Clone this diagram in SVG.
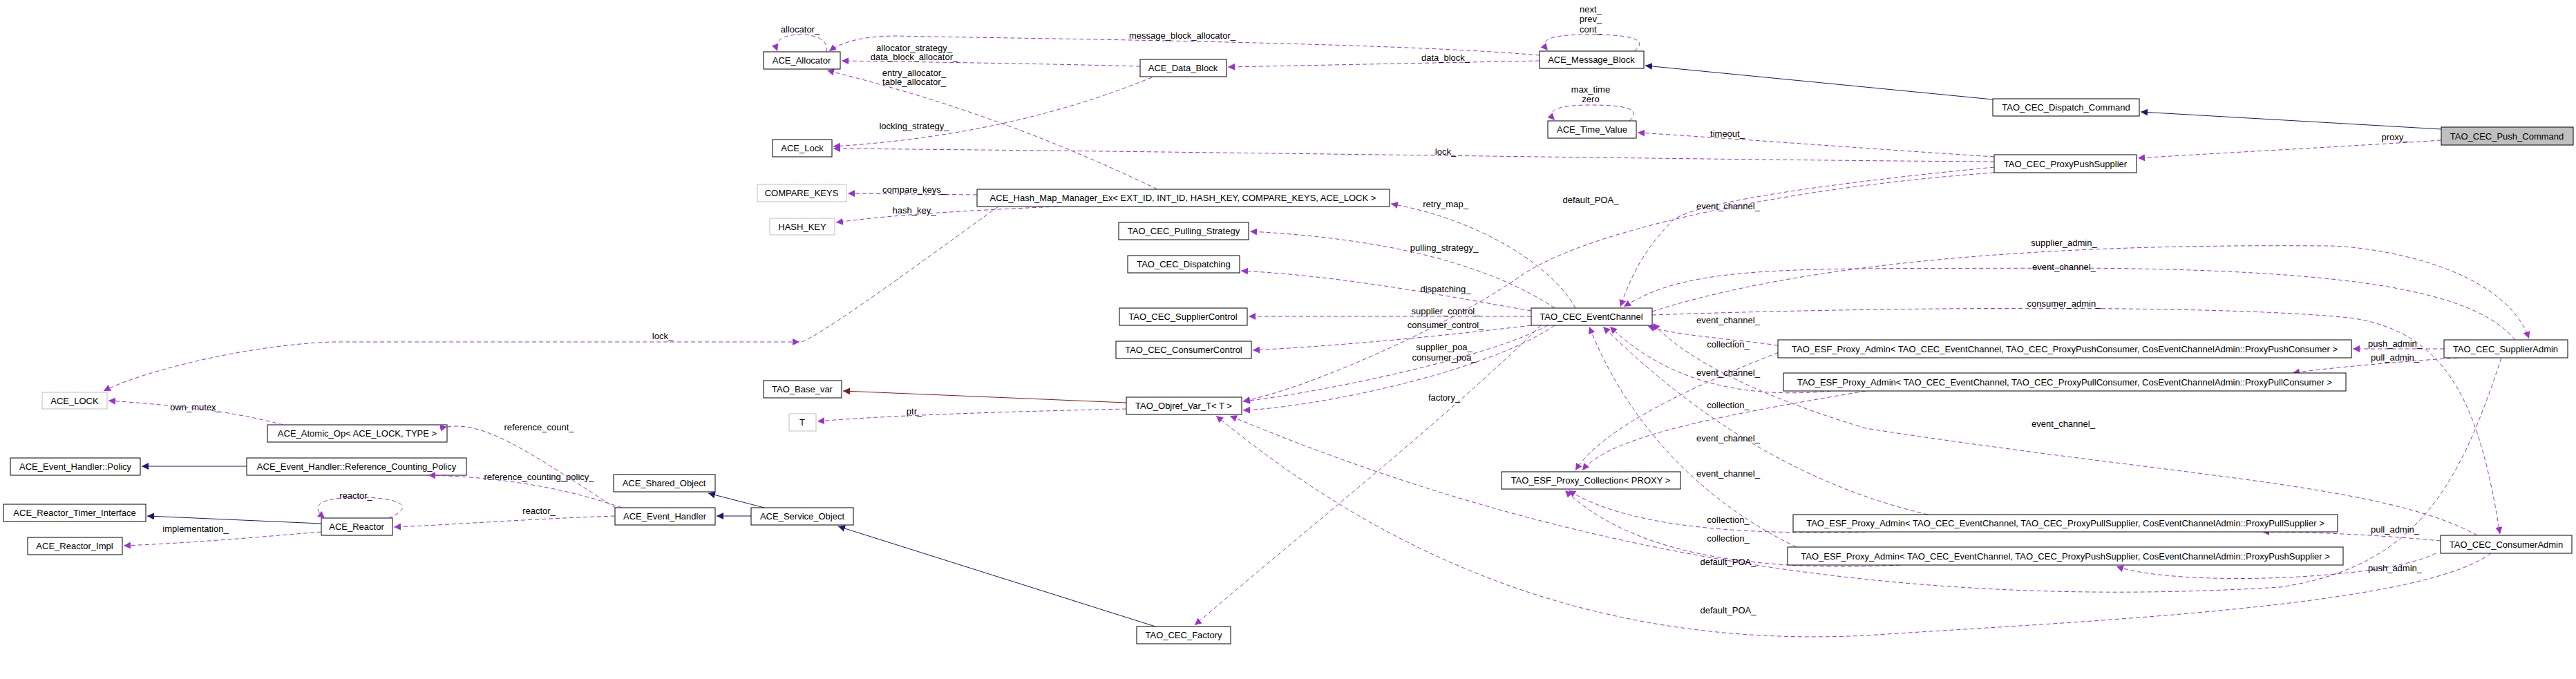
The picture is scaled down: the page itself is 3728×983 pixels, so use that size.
<svg xmlns="http://www.w3.org/2000/svg" width="3728" height="983" viewBox="0 0 3728 983">
<style>
text{font-family:"Liberation Sans",Arial,sans-serif;font-size:13px;fill:#000}
.n text{text-anchor:middle}
.n rect{fill:#fff;stroke:#000;stroke-width:1}
.g rect{stroke:#bfbfbf}
.u{fill:none;stroke:#9a32cd;stroke-width:1;stroke-dasharray:6,4;marker-end:url(#mp)}
.i{fill:none;stroke:#191970;stroke-width:1;marker-end:url(#mb)}
.t{fill:none;stroke:#8b1a1a;stroke-width:1;marker-end:url(#mr)}
.l{text-anchor:middle}
</style>
<defs>
<marker id="mp" viewBox="0 0 10 10" refX="10" refY="5" markerWidth="10" markerHeight="10" markerUnits="userSpaceOnUse" orient="auto"><path d="M0,0L10,5L0,10z" fill="#9a32cd"/></marker>
<marker id="mb" viewBox="0 0 10 10" refX="10" refY="5" markerWidth="10" markerHeight="10" markerUnits="userSpaceOnUse" orient="auto"><path d="M0,0L10,5L0,10z" fill="#191970"/></marker>
<marker id="mr" viewBox="0 0 10 10" refX="10" refY="5" markerWidth="10" markerHeight="10" markerUnits="userSpaceOnUse" orient="auto"><path d="M0,0L10,5L0,10z" fill="#8b1a1a"/></marker>
</defs>
<rect width="3728" height="983" fill="#fff"/>
<g id="edges">
<path class="i" d="M3533,187L3098,162"/>
<path class="i" d="M2884,144L2381,95"/>
<path class="i" d="M357,675L205,675"/>
<path class="i" d="M465,758L213,747"/>
<path class="i" d="M1106,735L1025,714"/>
<path class="i" d="M1087,747L1037,747"/>
<path class="i" d="M1672,907L1213,762"/>
<path class="t" d="M1630,583L1220,566"/>
<path class="u" d="M3533,203C3400,212 3200,222 3094,229"/>
<path class="u" d="M2886,227C2700,215 2500,200 2370,192"/>
<path class="u" d="M2886,234C2500,232 1800,220 1206,215"/>
<path class="u" d="M2886,242C2700,260 2450,290 2420,320C2380,360 2360,400 2345,444"/>
<path class="u" d="M2886,250C2600,270 2300,330 2200,400C2100,470 1900,560 1799,581"/>
<path class="u" d="M2228,80C2000,60 1400,55 1300,52C1250,52 1220,60 1200,74"/>
<path class="u" d="M2228,88L1777,97"/>
<path class="u" d="M2365,74C2390,55 2350,50 2302,50C2250,50 2225,55 2240,73"/>
<path class="u" d="M2358,175C2380,155 2340,152 2302,152C2260,152 2235,158 2250,174"/>
<path class="u" d="M1196,75C1200,58 1180,50 1160,50C1130,50 1120,60 1125,74"/>
<path class="u" d="M1650,96C1500,92 1350,90 1218,88"/>
<path class="u" d="M1667,112C1550,160 1400,200 1206,212"/>
<path class="u" d="M1675,274C1500,190 1350,140 1197,102"/>
<path class="u" d="M1414,282L1227,280"/>
<path class="u" d="M1530,299C1400,305 1300,310 1210,322"/>
<path class="u" d="M1445,299C1400,330 1200,480 1160,495L480,495C350,500 200,540 150,566"/>
<path class="u" d="M2280,446C2250,390 2150,320 2013,295"/>
<path class="u" d="M2250,446C2150,380 2000,345 1809,335"/>
<path class="u" d="M2216,450C2100,430 1950,400 1796,392"/>
<path class="u" d="M2216,458L1807,458"/>
<path class="u" d="M2216,471C2100,485 1950,500 1813,507"/>
<path class="u" d="M2240,471C2150,520 1900,570 1799,581"/>
<path class="u" d="M2250,471C2150,540 1900,590 1799,594"/>
<path class="u" d="M2230,471C2100,600 1850,800 1729,905"/>
<path class="u" d="M2391,451C2700,352 3200,355 3370,356C3420,356 3620,380 3660,490"/>
<path class="u" d="M3640,492C3580,420 3400,390 3000,388C2600,390 2450,380 2350,444"/>
<path class="u" d="M2391,456C2700,445 3200,440 3400,460C3550,480 3590,600 3618,773"/>
<path class="u" d="M3585,775C3450,700 3150,690 2700,620C2500,560 2420,500 2392,468"/>
<path class="u" d="M3537,505L3405,505"/>
<path class="u" d="M3557,518C3450,525 3350,535 3318,540"/>
<path class="u" d="M3532,783C3450,775 3350,770 3274,770"/>
<path class="u" d="M3525,801C3450,840 3150,850 3063,820"/>
<path class="u" d="M3620,518C3560,700 3500,820 3300,850C2800,880 2300,820 1780,602"/>
<path class="u" d="M3605,801C3500,880 3000,900 2700,920C2300,940 2000,800 1760,602"/>
<path class="u" d="M2573,500C2500,490 2420,485 2385,472"/>
<path class="u" d="M2620,492C2550,520 2330,600 2280,681"/>
<path class="u" d="M2650,566C2500,580 2400,540 2330,473"/>
<path class="u" d="M2700,566C2500,600 2330,630 2290,681"/>
<path class="u" d="M2790,745C2600,700 2450,600 2320,473"/>
<path class="u" d="M2700,770C2500,775 2350,760 2270,710"/>
<path class="u" d="M2600,792C2450,720 2350,600 2300,473"/>
<path class="u" d="M2750,818C2500,830 2350,790 2265,710"/>
<g class="l">
<text x="3466" y="203">proxy_</text>
<text x="2500" y="198">timeout_</text>
<text x="2092" y="224">lock_</text>
<text x="2501" y="303">event_channel_</text>
<text x="2302" y="294">default_POA_</text>
<text x="1711" y="56">message_block_allocator_</text>
<text x="2092" y="88">data_block_</text>
<text x="2302" y="18">next_</text><text x="2302" y="32">prev_</text><text x="2302" y="47">cont_</text>
<text x="2302" y="134">max_time</text><text x="2302" y="148">zero</text>
<text x="1158" y="47">allocator_</text>
<text x="1323" y="74">allocator_strategy_</text><text x="1323" y="87">data_block_allocator_</text>
<text x="1323" y="110">entry_allocator_</text><text x="1323" y="123">table_allocator_</text>
<text x="1323" y="187">locking_strategy_</text>
<text x="1323" y="279">compare_keys_</text>
<text x="1323" y="309">hash_key_</text>
<text x="959" y="491">lock_</text>
<text x="2092" y="300">retry_map_</text>
<text x="2090" y="363">pulling_strategy_</text>
<text x="2092" y="423">dispatching_</text>
<text x="2092" y="455">supplier_control_</text>
<text x="2092" y="475">consumer_control_</text>
<text x="2090" y="507">supplier_poa_</text><text x="2090" y="522">consumer_poa_</text>
<text x="2090" y="580">factory_</text>
<text x="2987" y="356">supplier_admin_</text>
<text x="2987" y="391">event_channel_</text>
<text x="2987" y="444">consumer_admin_</text>
<text x="2986" y="618">event_channel_</text>
<text x="3466" y="502">push_admin_</text>
<text x="3466" y="522">pull_admin_</text>
<text x="3466" y="771">pull_admin_</text>
<text x="3466" y="827">push_admin_</text>
<text x="2501" y="818">default_POA_</text>
<text x="2501" y="888">default_POA_</text>
<text x="2501" y="468">event_channel_</text>
<text x="2501" y="503">collection_</text>
<text x="2501" y="544">event_channel_</text>
<text x="2501" y="591">collection_</text>
<text x="2501" y="639">event_channel_</text>
<text x="2501" y="690">event_channel_</text>
<text x="2501" y="757">collection_</text>
<text x="2501" y="784">collection_</text>
<text x="283" y="594">own_mutex_</text>
<text x="780" y="623">reference_count_</text>
<text x="780" y="695">reference_counting_policy_</text>
<text x="515" y="722">reactor_</text>
<text x="780" y="744">reactor_</text>
<text x="283" y="770">implementation_</text>
<text x="1323" y="600">ptr_</text>
</g>
</g>
<g id="push_command" class="n"><rect x="3533" y="184" width="191" height="26" fill="#bfbfbf" style="fill:#bfbfbf"/><text x="3628" y="202">TAO_CEC_Push_Command</text></g>
<g id="dispatch_command" class="n"><rect x="2884" y="143" width="212" height="25"/><text x="2990" y="160">TAO_CEC_Dispatch_Command</text></g>
<g id="message_block" class="n"><rect x="2228" y="74" width="151" height="25"/><text x="2303" y="91">ACE_Message_Block</text></g>
<g id="time_value" class="n"><rect x="2240" y="175" width="128" height="25"/><text x="2304" y="192">ACE_Time_Value</text></g>
<g id="proxy_push_supplier" class="n"><rect x="2886" y="224" width="206" height="26"/><text x="2989" y="242">TAO_CEC_ProxyPushSupplier</text></g>
<g id="allocator" class="n"><rect x="1105" y="75" width="111" height="25"/><text x="1160" y="92">ACE_Allocator</text></g>
<g id="data_block" class="n"><rect x="1650" y="86" width="125" height="25"/><text x="1712" y="103">ACE_Data_Block</text></g>
<g id="ace_lock" class="n"><rect x="1118" y="202" width="86" height="25"/><text x="1161" y="219">ACE_Lock</text></g>
<g id="compare_keys" class="n g"><rect x="1096" y="267" width="129" height="25"/><text x="1160" y="284">COMPARE_KEYS</text></g>
<g id="hash_key" class="n g"><rect x="1114" y="316" width="94" height="24"/><text x="1161" y="333">HASH_KEY</text></g>
<g id="hash_map" class="n"><rect x="1414" y="274" width="597" height="25"/><text x="1712" y="291">ACE_Hash_Map_Manager_Ex&lt; EXT_ID, INT_ID, HASH_KEY, COMPARE_KEYS, ACE_LOCK &gt;</text></g>
<g id="pulling_strategy" class="n"><rect x="1619" y="322" width="188" height="25"/><text x="1713" y="339">TAO_CEC_Pulling_Strategy</text></g>
<g id="dispatching" class="n"><rect x="1632" y="370" width="162" height="25"/><text x="1713" y="387">TAO_CEC_Dispatching</text></g>
<g id="supplier_control" class="n"><rect x="1620" y="446" width="185" height="25"/><text x="1712" y="463">TAO_CEC_SupplierControl</text></g>
<g id="consumer_control" class="n"><rect x="1615" y="494" width="196" height="25"/><text x="1713" y="511">TAO_CEC_ConsumerControl</text></g>
<g id="event_channel" class="n"><rect x="2216" y="446" width="175" height="25"/><text x="2303" y="463">TAO_CEC_EventChannel</text></g>
<g id="supplier_admin" class="n"><rect x="3537" y="492" width="179" height="26"/><text x="3626" y="510">TAO_CEC_SupplierAdmin</text></g>
<g id="consumer_admin" class="n"><rect x="3532" y="775" width="190" height="26"/><text x="3627" y="793">TAO_CEC_ConsumerAdmin</text></g>
<g id="admin_push_consumer" class="n"><rect x="2573" y="492" width="830" height="26"/><text x="2988" y="510">TAO_ESF_Proxy_Admin&lt; TAO_CEC_EventChannel, TAO_CEC_ProxyPushConsumer, CosEventChannelAdmin::ProxyPushConsumer &gt;</text></g>
<g id="admin_pull_consumer" class="n"><rect x="2581" y="540" width="814" height="26"/><text x="2988" y="558">TAO_ESF_Proxy_Admin&lt; TAO_CEC_EventChannel, TAO_CEC_ProxyPullConsumer, CosEventChannelAdmin::ProxyPullConsumer &gt;</text></g>
<g id="admin_pull_supplier" class="n"><rect x="2595" y="745" width="788" height="25"/><text x="2989" y="762">TAO_ESF_Proxy_Admin&lt; TAO_CEC_EventChannel, TAO_CEC_ProxyPullSupplier, CosEventChannelAdmin::ProxyPullSupplier &gt;</text></g>
<g id="admin_push_supplier" class="n"><rect x="2587" y="792" width="804" height="26"/><text x="2989" y="810">TAO_ESF_Proxy_Admin&lt; TAO_CEC_EventChannel, TAO_CEC_ProxyPushSupplier, CosEventChannelAdmin::ProxyPushSupplier &gt;</text></g>
<g id="proxy_collection" class="n"><rect x="2173" y="683" width="259" height="25"/><text x="2302" y="700">TAO_ESF_Proxy_Collection&lt; PROXY &gt;</text></g>
<g id="base_var" class="n"><rect x="1105" y="551" width="113" height="25"/><text x="1161" y="568">TAO_Base_var</text></g>
<g id="t" class="n g"><rect x="1142" y="599" width="39" height="25"/><text x="1161" y="616">T</text></g>
<g id="objref_var" class="n"><rect x="1630" y="575" width="167" height="25"/><text x="1713" y="592">TAO_Objref_Var_T&lt; T &gt;</text></g>
<g id="factory" class="n"><rect x="1645" y="907" width="136" height="25"/><text x="1713" y="924">TAO_CEC_Factory</text></g>
<g id="ace_LOCK" class="n g"><rect x="61" y="568" width="94" height="24"/><text x="108" y="585">ACE_LOCK</text></g>
<g id="atomic_op" class="n"><rect x="387" y="615" width="260" height="25"/><text x="517" y="632">ACE_Atomic_Op&lt; ACE_LOCK, TYPE &gt;</text></g>
<g id="policy" class="n"><rect x="15" y="663" width="188" height="25"/><text x="109" y="680">ACE_Event_Handler::Policy</text></g>
<g id="ref_policy" class="n"><rect x="357" y="663" width="318" height="25"/><text x="516" y="680">ACE_Event_Handler::Reference_Counting_Policy</text></g>
<g id="shared_object" class="n"><rect x="888" y="687" width="147" height="25"/><text x="961" y="704">ACE_Shared_Object</text></g>
<g id="event_handler" class="n"><rect x="890" y="735" width="145" height="25"/><text x="962" y="752">ACE_Event_Handler</text></g>
<g id="service_object" class="n"><rect x="1087" y="735" width="148" height="25"/><text x="1161" y="752">ACE_Service_Object</text></g>
<g id="timer_interface" class="n"><rect x="5" y="730" width="206" height="25"/><text x="108" y="747">ACE_Reactor_Timer_Interface</text></g>
<g id="reactor" class="n"><rect x="465" y="750" width="103" height="25"/><text x="516" y="767">ACE_Reactor</text></g>
<g id="reactor_impl" class="n"><rect x="40" y="778" width="137" height="25"/><text x="108" y="795">ACE_Reactor_Impl</text></g>
<path class="u" d="M1157,495L1157,495"/>
<path class="u" d="M647,618C700,610 760,650 890,735" style="marker-end:none;marker-start:url(#mp)"/>
<path class="u" d="M900,735C800,700 700,690 620,688"/>
<path class="u" d="M890,747C750,752 650,760 570,763"/>
<path class="u" d="M410,615C350,600 300,590 157,580"/>
<path class="u" d="M465,770C400,775 300,785 179,790"/>
<path class="u" d="M562,750C600,735 585,720 516,720C470,720 445,730 470,750"/>
<path class="u" d="M1630,592C1500,595 1300,600 1183,610"/>
</svg>
